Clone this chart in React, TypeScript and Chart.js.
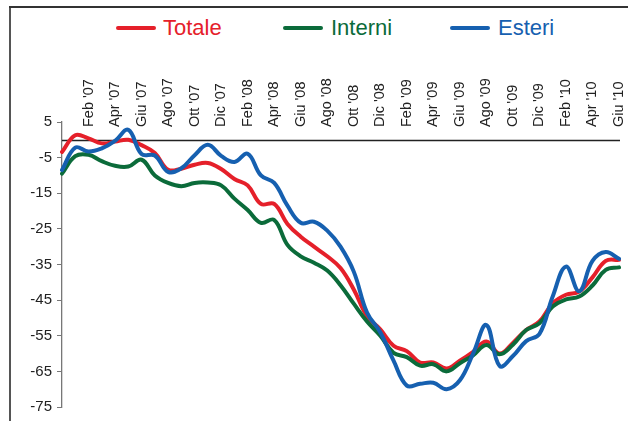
import React, { useEffect, useRef } from "react";
import { Chart, registerables } from "chart.js";

Chart.register(...registerables);

const months: string[] = [
  "Dic '06", "Gen '07", "Feb '07", "Mar '07", "Apr '07", "Mag '07", "Giu '07", "Lug '07", "Ago '07", "Set '07", "Ott '07", "Nov '07", "Dic '07",
  "Gen '08", "Feb '08", "Mar '08", "Apr '08", "Mag '08", "Giu '08", "Lug '08", "Ago '08", "Set '08", "Ott '08", "Nov '08", "Dic '08",
  "Gen '09", "Feb '09", "Mar '09", "Apr '09", "Mag '09", "Giu '09", "Lug '09", "Ago '09", "Set '09", "Ott '09", "Nov '09", "Dic '09",
  "Gen '10", "Feb '10", "Mar '10", "Apr '10", "Mag '10", "Giu '10",
];

const totale: number[] = [
  -3.4, 1.3, 0.4, -1, -0.5, 0, -1.5, -3.7, -8.4, -8.1, -7, -6.5, -8.2,
  -11, -12.8, -18, -18, -23.6, -27.2, -30, -32.7, -36, -42, -49.5, -53.2,
  -57.8, -59.3, -62.5, -62.5, -64.2, -62, -59.5, -56.6, -60, -57, -53.4, -51,
  -45.9, -43.5, -42.6, -38.6, -34, -33.7,
];

const interni: number[] = [
  -9.5, -4.6, -4.2, -6, -7.3, -7.5, -5.6, -10, -12.1, -13, -12.1, -12, -12.8,
  -16.5, -19.7, -23.3, -22.5, -29.5, -32.7, -34.5, -36.7, -40.8, -46, -51, -55,
  -59.8, -61, -63.4, -63, -65, -62.7, -60.5, -57.6, -60.2, -57.5, -53.4, -51.5,
  -46.8, -44.8, -44, -40.9, -36.5, -35.8,
];

const esteri: number[] = [
  -8.5, -2.2, -3.3, -2.4, -0.3, 2.8, -4, -4.4, -9, -8, -4.3, -1.4, -4.5,
  -6.2, -3.9, -10, -12.1, -18.5, -23.3, -23, -25.5, -30, -37, -48.5, -54,
  -62, -69, -68.5, -68.2, -70, -67.5, -60, -52, -63.5, -60.7, -56.5, -54.5,
  -44, -35.6, -42.5, -34, -31.5, -33.4,
];

const yTicks: number[] = [5, -5, -15, -25, -35, -45, -55, -65, -75];

const RED = "#E5202A";
const GREEN = "#0B6B3A";
const BLUE = "#1660B0";
const FONT = "'Liberation Sans', Arial, sans-serif";

const zeroLine = {
  id: "zeroLine",
  beforeDatasetsDraw(chart: any) {
    const { ctx, chartArea, scales } = chart;
    const y = Math.round(scales.y.getPixelForValue(0)) + 0.5;
    ctx.save();
    ctx.strokeStyle = "#222";
    ctx.lineWidth = 1.3;
    ctx.beginPath();
    ctx.moveTo(chartArea.left, y);
    ctx.lineTo(chartArea.right + 1, y);
    ctx.stroke();
    ctx.restore();
  },
};

export default function App() {
  const ref = useRef<HTMLCanvasElement | null>(null);

  useEffect(() => {
    if (!ref.current) return;
    const chart = new Chart(ref.current, {
      type: "line",
      data: {
        labels: months,
        datasets: [
          { label: "Totale", data: totale, borderColor: RED, order: 2 },
          { label: "Interni", data: interni, borderColor: GREEN, order: 1 },
          { label: "Esteri", data: esteri, borderColor: BLUE, order: 0 },
        ].map((d) => ({
          ...d,
          borderWidth: 4,
          pointRadius: 0,
          tension: 0.4,
          fill: false,
          borderCapStyle: "round" as const,
          borderJoinStyle: "round" as const,
        })),
      },
      options: {
        responsive: false,
        animation: false,
        layout: { padding: { left: 0, top: 0, right: 9, bottom: 13 } },
        plugins: { legend: { display: false }, tooltip: { enabled: false } },
        scales: {
          x: {
            position: "top",
            grid: { display: false, drawTicks: false },
            border: { display: false },
            ticks: {
              autoSkip: false,
              maxRotation: 90,
              minRotation: 90,
              mirror: true,
              padding: 5,
              color: "#222",
              font: { family: FONT, size: 14.5 },
              callback: (_v: any, i: number) => (i > 0 && i % 2 === 0 ? months[i] : ""),
            },
            afterFit: (s: any) => {
              s.height = 122;
            },
          },
          y: {
            min: -75,
            max: 5,
            afterBuildTicks: (s: any) => {
              s.ticks = yTicks.map((v) => ({ value: v }));
            },
            grid: { drawOnChartArea: false, drawTicks: true, tickLength: 5, color: "#777" },
            border: { display: true, color: "#777", width: 1.3 },
            ticks: {
              padding: 5,
              color: "#222",
              font: { family: FONT, size: 15 },
            },
            afterFit: (s: any) => {
              s.width = 62;
            },
          },
        },
      },
      plugins: [zeroLine],
    });
    return () => chart.destroy();
  }, []);

  const legendItem = (lineLeft: number, textLeft: number, color: string, text: string) => (
    <>
      <div
        style={{
          position: "absolute",
          left: lineLeft,
          top: 26,
          width: 40,
          height: 4,
          borderRadius: 2,
          background: color,
        }}
      />
      <div
        style={{
          position: "absolute",
          left: textLeft,
          top: 17,
          height: 22,
          lineHeight: "22px",
          fontSize: 22,
          fontFamily: FONT,
          color,
          whiteSpace: "nowrap",
        }}
      >
        {text}
      </div>
    </>
  );

  return (
    <div style={{ position: "absolute", left: 0, top: 0, width: 628, height: 421, background: "#fff", overflow: "hidden" }}>
      <div style={{ position: "absolute", left: 9, top: 6, width: 2, height: 415, background: "#555" }} />
      <div style={{ position: "absolute", left: 9, top: 6, width: 619, height: 2, background: "#333" }} />
      {legendItem(116, 163, RED, "Totale")}
      {legendItem(283, 331, GREEN, "Interni")}
      {legendItem(450, 498, BLUE, "Esteri")}
      <canvas ref={ref} width={628} height={421} style={{ position: "absolute", left: 0, top: 0, display: "block" }} />
    </div>
  );
}
